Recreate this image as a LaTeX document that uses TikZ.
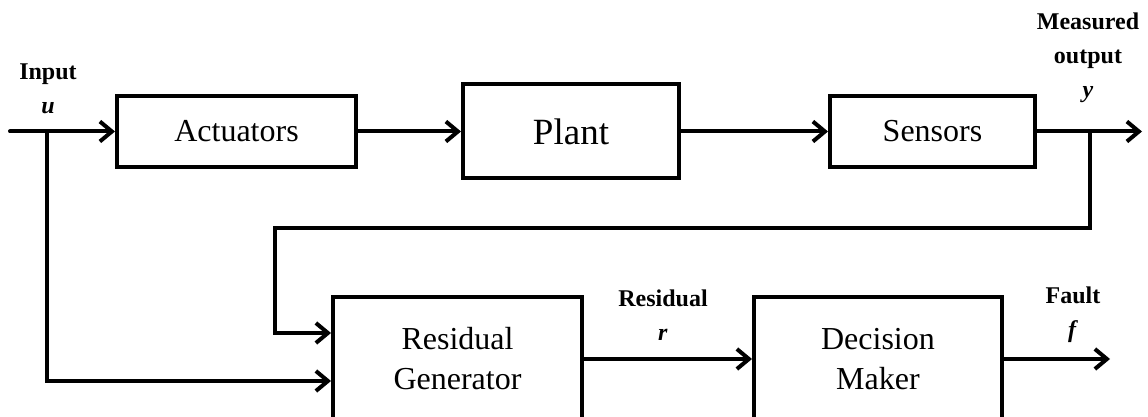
\documentclass[tikz,border=0pt]{standalone}
\usepackage{fontspec}
\setmainfont{Liberation Serif}
\usetikzlibrary{arrows.meta,positioning}

\tikzset{
  block/.style={draw, line width=2pt, align=center, inner sep=2pt,
    font=\fontsize{16}{20}\selectfont},
  lbl/.style={align=center, inner sep=0pt,
    font=\fontsize{12}{17}\selectfont\bfseries}
}

\begin{document}
\begin{tikzpicture}[x=0.5pt,y=-0.5pt,>={Straight Barb[length=6pt,width=10pt]},
    line width=2pt,line cap=round]

                \useasboundingbox (0,0) rectangle (1148,417);

                % top row
                \node[block,minimum width=119.5pt,minimum height=35.5pt] (act) at (236.5,131.5) {Actuators};
                \node[block,minimum width=108pt,minimum height=47pt,font=\fontsize{18.5}{22}\selectfont] (plant) at (571,131.5) {Plant};
                \node[block,minimum width=102.5pt,minimum height=35.5pt] (sens) at (932.5,131.5) {Sensors};

                % bottom row
                \node[block,minimum width=124.5pt,minimum height=62pt] (resgen) at (457.5,359) {Residual\\Generator};
                \node[block,minimum width=124pt,minimum height=62pt] (dec) at (878,359) {Decision\\Maker};

                \coordinate (in) at (10,131.5);
                \coordinate (ub) at (47,131.5);
                \coordinate (lo) at (47,381);
                \coordinate (out) at (1142,131.5);
                \coordinate (yb) at (1090,131.5);
                \coordinate (fb) at (275,228);
                \coordinate (fl) at (275,333);
                \coordinate (fout) at (1110,359);

                \node[lbl] (inlbl) at (48,89) {Input\\\textit{u}};
                \node[lbl] (outlbl) at (1088,58) {Measured\\output\\\textit{y}};
                \node[lbl] (rlbl) at (663,315.5) {Residual\\\textit{r}};
                \node[lbl] (flbl) at (1073,315) {Fault\\\textit{f}};

                \draw[->] (in) -- (act);
                \draw[->] (act) -- (plant);
                \draw[->] (plant) -- (sens);
                \draw[->] (sens) -- (out);
                \draw[->] (ub) -- (lo) -- (resgen.west |- lo);
                \draw[->] (yb) |- (fb) -- (fl) -- (resgen.west |- fl);
                \draw[->] (resgen) -- (dec);
                \draw[->] (dec) -- (fout);

            \end{tikzpicture}
\end{document}
